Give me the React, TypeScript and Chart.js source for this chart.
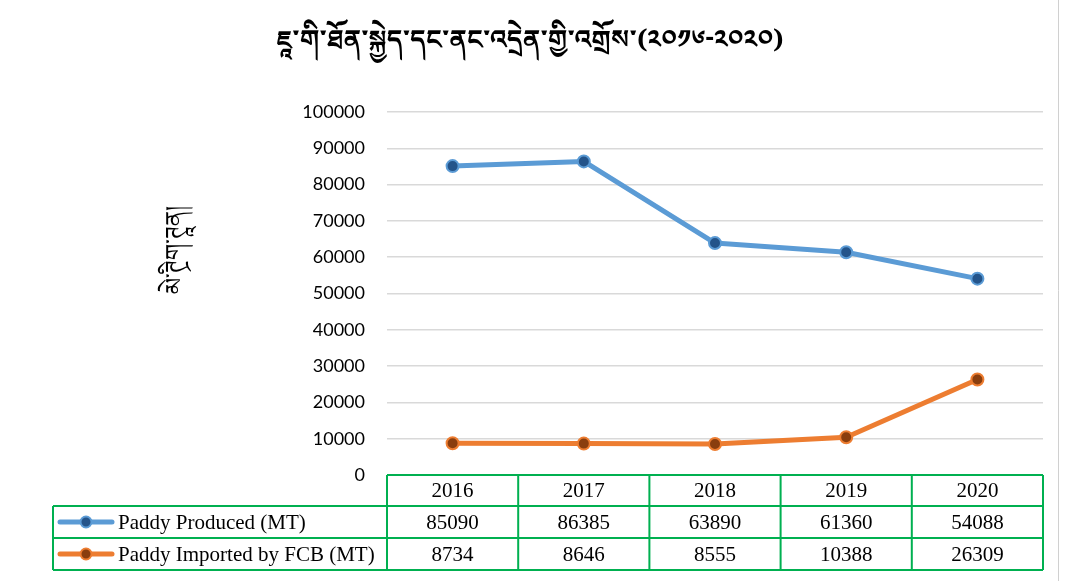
import React, { useEffect, useRef } from "react";
import { Chart, registerables } from "chart.js";

Chart.register(...registerables);

const title = "ཇཱ་གི་ཐོན་སྐྱེད་དང་ནང་འདྲེན་གྱི་འགྲོས་(༢༠༡༦-༢༠༢༠)";
const yTitle = "མེ་ཊྲིག་ཊཱན།";
const years = ["2016", "2017", "2018", "2019", "2020"];
const produced = [85090, 86385, 63890, 61360, 54088];
const imported = [8734, 8646, 8555, 10388, 26309];
const seriesNames = ["Paddy Produced (MT)", "Paddy Imported by FCB (MT)"];

const BLUE = "#5B9BD5";
const BLUE_DARK = "#24548A";
const ORANGE = "#ED7D31";
const ORANGE_DARK = "#8A3E0E";
const GREEN = "#00B050";
const TIB_FONT = "'Noto Serif Tibetan','Noto Sans Tibetan','Jomolhari','DejaVu Sans','Noto Sans',sans-serif";
const SERIF = "'Liberation Serif','Times New Roman',serif";

const tablePlugin = {
  id: "tablePlugin",
  afterDraw(chart: any) {
    const ctx = chart.ctx;
    const xs = chart.scales.x;
    const area = chart.chartArea;
    const colW = (area.right - area.left) / years.length;
    const rowTops = [area.bottom, 506, 538, 570];
    const legendLeft = 53;

    ctx.save();
    // title
    ctx.fillStyle = "#000";
    ctx.font = `bold 26px ${TIB_FONT}`;
    ctx.textAlign = "center";
    ctx.textBaseline = "middle";
    ctx.fillText(title, 530, 47);

    // y title
    ctx.save();
    ctx.translate(182, 250);
    ctx.rotate(-Math.PI / 2);
    ctx.font = `23px ${TIB_FONT}`;
    ctx.fillText(yTitle, 0, 0);
    ctx.restore();

    // table borders
    ctx.strokeStyle = GREEN;
    ctx.lineWidth = 2;
    ctx.beginPath();
    ctx.moveTo(area.left, rowTops[0]);
    ctx.lineTo(area.right, rowTops[0]);
    for (let r = 1; r < rowTops.length; r++) {
      ctx.moveTo(legendLeft, rowTops[r]);
      ctx.lineTo(area.right, rowTops[r]);
    }
    for (let c = 0; c <= years.length; c++) {
      const x = area.left + c * colW;
      ctx.moveTo(x, rowTops[0]);
      ctx.lineTo(x, rowTops[3]);
    }
    ctx.moveTo(legendLeft, rowTops[1]);
    ctx.lineTo(legendLeft, rowTops[3]);
    ctx.stroke();

    // header and values
    ctx.fillStyle = "#000";
    ctx.font = `21px ${SERIF}`;
    ctx.textAlign = "center";
    ctx.textBaseline = "middle";
    const rows = [years, produced.map(String), imported.map(String)];
    rows.forEach((row, r) => {
      const cy = (rowTops[r] + rowTops[r + 1]) / 2 + 1;
      row.forEach((v, i) => {
        ctx.fillText(v, xs.getPixelForValue(i), cy);
      });
    });

    // legend keys
    const keyColors = [
      [BLUE, BLUE_DARK],
      [ORANGE, ORANGE_DARK],
    ];
    for (let s = 0; s < 2; s++) {
      const cy = (rowTops[s + 1] + rowTops[s + 2]) / 2;
      ctx.strokeStyle = keyColors[s][0];
      ctx.lineWidth = 5;
      ctx.lineCap = "round";
      ctx.beginPath();
      ctx.moveTo(60, cy);
      ctx.lineTo(112, cy);
      ctx.stroke();
      ctx.beginPath();
      ctx.arc(86, cy, 5.5, 0, Math.PI * 2);
      ctx.fillStyle = keyColors[s][1];
      ctx.fill();
      ctx.lineWidth = 2;
      ctx.strokeStyle = keyColors[s][0];
      ctx.stroke();
      ctx.fillStyle = "#000";
      ctx.textAlign = "left";
      ctx.fillText(seriesNames[s], 118, cy + 1);
    }

    // outer right border
    ctx.strokeStyle = "#D0D0D0";
    ctx.lineWidth = 1;
    ctx.beginPath();
    ctx.moveTo(1058.5, 0);
    ctx.lineTo(1058.5, 581);
    ctx.stroke();
    ctx.restore();
  },
};

export default function App() {
  const ref = useRef<HTMLCanvasElement | null>(null);
  useEffect(() => {
    if (!ref.current) return;
    const chart = new Chart(ref.current, {
      type: "line",
      data: {
        labels: years,
        datasets: [
          {
            label: seriesNames[0],
            data: produced,
            borderColor: BLUE,
            borderWidth: 5,
            pointRadius: 6,
            pointBackgroundColor: BLUE_DARK,
            pointBorderColor: BLUE,
            pointBorderWidth: 2,
            tension: 0,
            borderCapStyle: "round",
            borderJoinStyle: "round",
          },
          {
            label: seriesNames[1],
            data: imported,
            borderColor: ORANGE,
            borderWidth: 5,
            pointRadius: 6,
            pointBackgroundColor: ORANGE_DARK,
            pointBorderColor: ORANGE,
            pointBorderWidth: 2,
            tension: 0,
            borderCapStyle: "round",
            borderJoinStyle: "round",
          },
        ],
      },
      options: {
        responsive: false,
        animation: false,
        layout: { padding: { left: 0, right: 24, top: 112, bottom: 106 } },
        plugins: {
          legend: { display: false },
          title: { display: false },
          tooltip: { enabled: false },
        },
        scales: {
          x: { display: false, offset: true },
          y: {
            min: 0,
            max: 100000,
            ticks: {
              stepSize: 10000,
              padding: 22,
              color: "#000",
              font: { family: "Lato, 'Open Sans', sans-serif", size: 18 },
              callback: (v: any) => String(v),
            },
            grid: { color: "#D9D9D9", lineWidth: 1.5, drawTicks: false },
            border: { display: false },
            afterFit: (scale: any) => {
              scale.width = 387;
            },
          },
        },
      },
      plugins: [tablePlugin],
    });
    return () => chart.destroy();
  }, []);
  return (
    <div style={{ position: "absolute", left: 0, top: 0, width: 1067, height: 581, background: "#fff" }}>
      <canvas ref={ref} width={1067} height={581} />
    </div>
  );
}
